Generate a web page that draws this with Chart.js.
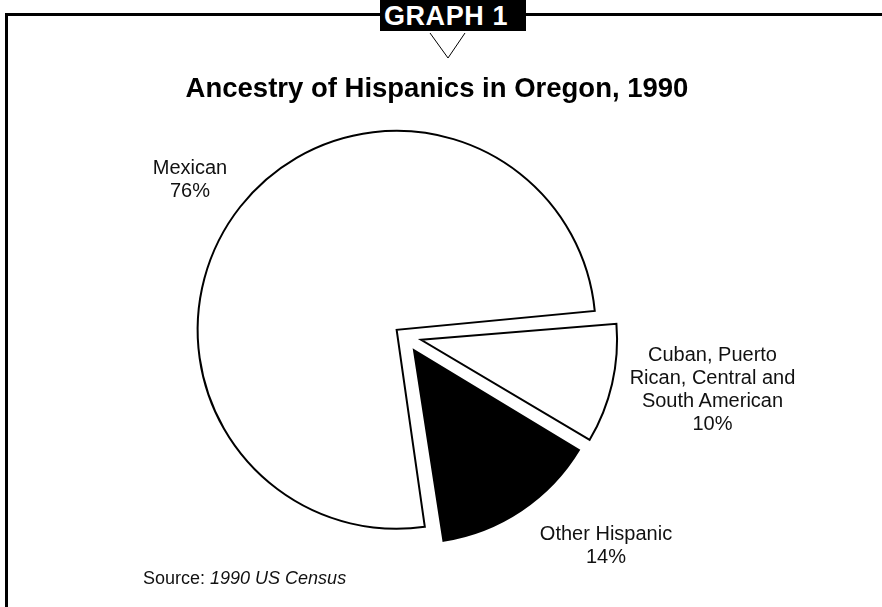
<!DOCTYPE html>
<html>
<head>
<meta charset="utf-8">
<script src="https://cdn.jsdelivr.net/npm/chart.js@4.4.1/dist/chart.umd.min.js"></script>
<style>
  html, body { margin: 0; padding: 0; background: #fff; }
  body { width: 882px; height: 607px; position: relative; overflow: hidden;
         font-family: "Liberation Sans", Arial, Helvetica, sans-serif; color: #111; }
  #chart { position: absolute; left: 0; top: 0; }
  .frameTop { position: absolute; left: 5px; top: 13px; width: 877px; height: 2.5px; background: #000; }
  .frameLeft { position: absolute; left: 5px; top: 13px; width: 2.5px; height: 594px; background: #000; }
  .tab { position: absolute; left: 380px; top: 0; width: 146px; height: 31px; background: #000;
         color: #fff; font-weight: bold; font-size: 27px; line-height: 31px; text-align: center; }
  .tab span { position: relative; top: 1px; left: -7px; letter-spacing: 0.6px; }
  .title { position: absolute; left: 0; width: 874px; top: 72px; text-align: center;
           font-weight: bold; font-size: 27.5px; line-height: 31px; color: #000; }
  .lbl { position: absolute; transform: translateX(-50%); text-align: center; white-space: nowrap;
         font-size: 20px; line-height: 23px; }
  .source { position: absolute; left: 143px; top: 568px; font-size: 18px; line-height: 21px; white-space: nowrap; }
  .source i { font-style: italic; }
  svg.chev { position: absolute; left: 0; top: 0; }
</style>
</head>
<body>
<canvas id="chart" width="882" height="607"></canvas>
<div class="frameTop"></div>
<div class="frameLeft"></div>
<div class="tab"><span id="tabText"></span></div>
<svg class="chev" width="882" height="70"><polyline points="430,33 448,58 465,33" fill="none" stroke="#000" stroke-width="1"/></svg>
<div class="title" id="title"></div>
<div id="labels"></div>
<div class="source" id="source"></div>
<script>
// ---- data ----
const tabLabel = "GRAPH 1";
const chartTitle = "Ancestry of Hispanics in Oregon, 1990";
const categories = ["Mexican", "Cuban, Puerto Rican, Central and South American", "Other Hispanic"];
const categoryLines = [["Mexican"], ["Cuban, Puerto", "Rican, Central and", "South American"], ["Other Hispanic"]];
const percentValues = [76, 10, 14];
const sourcePrefix = "Source: ";
const sourceName = "1990 US Census";

// ---- styles (not data) ----
const sliceFill = ["#ffffff", "#ffffff", "#000000"];
const sliceOffset = [40, 68, 68];
const labelPos = [ {x: 190, top: 155.6}, {x: 712.5, top: 342.6}, {x: 606, top: 521.6} ];

document.getElementById('tabText').textContent = tabLabel;
document.getElementById('title').textContent = chartTitle;
const src = document.getElementById('source');
src.appendChild(document.createTextNode(sourcePrefix));
const it = document.createElement('i'); it.textContent = sourceName; src.appendChild(it);

const labelsDiv = document.getElementById('labels');
categoryLines.forEach((lines, i) => {
  const d = document.createElement('div');
  d.className = 'lbl';
  d.style.left = labelPos[i].x + 'px';
  d.style.top = labelPos[i].top + 'px';
  d.innerHTML = lines.concat([percentValues[i] + '%']).map(s => s.replace(/&/g,'&amp;').replace(/</g,'&lt;')).join('<br>');
  labelsDiv.appendChild(d);
});

new Chart(document.getElementById('chart'), {
  type: 'pie',
  data: {
    labels: categories,
    datasets: [{
      data: percentValues,
      backgroundColor: sliceFill,
      borderColor: '#000',
      borderWidth: 2,
      borderJoinStyle: 'miter',
      offset: sliceOffset,
      hoverOffset: 0
    }]
  },
  options: {
    responsive: false,
    animation: false,
    rotation: 171.4,
    radius: 189,
    layout: { padding: { left: 0, right: 73, top: 65, bottom: 0 } },
    plugins: { legend: { display: false }, tooltip: { enabled: false }, title: { display: false } },
    events: []
  }
});
</script>
</body>
</html>
